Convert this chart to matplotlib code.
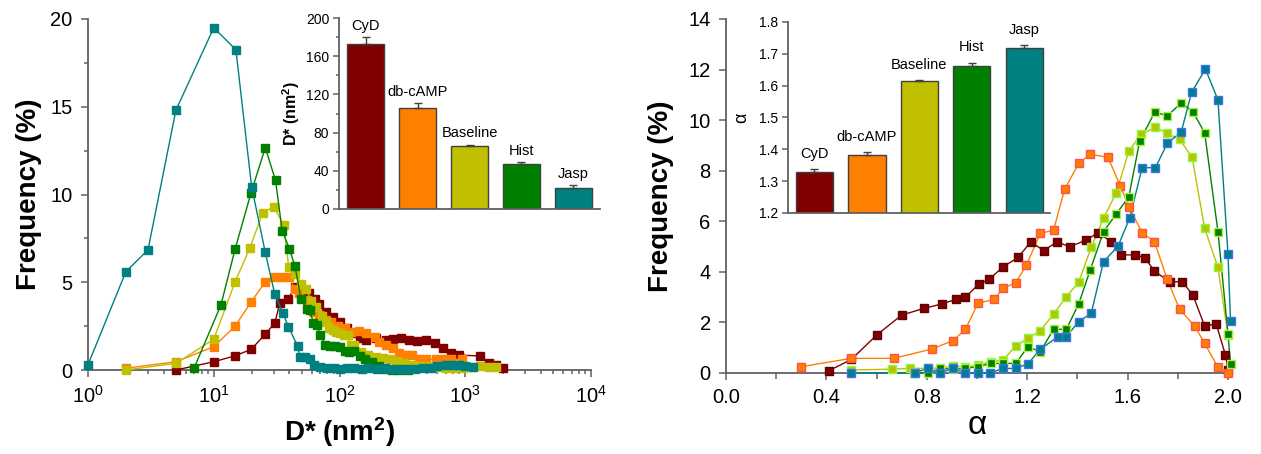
import matplotlib
matplotlib.use("Agg")
import matplotlib.pyplot as plt
from matplotlib.ticker import MultipleLocator, FormatStrFormatter, LogLocator, NullFormatter

plt.rcParams['font.family'] = ['Liberation Sans', 'DejaVu Sans']
plt.rcParams['mathtext.default'] = 'regular'

# ---------------- data ----------------
groups = ["CyD", "db-cAMP", "Baseline", "Hist", "Jasp"]
colors = ["#800000", "#FF8000", "#C0C000", "#008000", "#008080"]
edge_right = ["#600000", "#FF5050", "#80FF40", "#B0F040", "#4070FF"]

# Left panel: D* distributions (x in nm^2, y in %)
cyd_d_x = [5, 10, 14.8, 19.9, 25.7, 30.5, 33.5, 39, 44.3, 49, 57, 64, 69, 78, 88, 100, 115, 130, 145,
           163, 195, 234, 265, 307, 360, 417, 487, 570, 660, 767, 900, 1300, 1550, 1750, 1980]
cyd_d_y = [0.0, 0.47, 0.81, 1.18, 2.05, 2.66, 3.8, 4.03, 4.75, 4.37, 4.37, 4.03, 3.76, 3.32, 3.0, 2.75, 2.4, 2.09, 1.8,
           1.71, 1.8, 1.71, 1.75, 1.8, 1.71, 1.67, 1.71, 1.52, 1.23, 0.95, 0.85, 0.8, 0.38, 0.28, 0.1]

camp_d_x = [2, 5, 10, 14.8, 19.8, 25.7, 30, 35, 40, 44, 48, 55, 62, 69, 78, 86, 97, 110, 123, 144, 163, 190,
            207, 234, 265, 300, 340, 380, 430, 490, 580, 680, 770, 950]
camp_d_y = [0.1, 0.47, 1.33, 2.5, 3.87, 5.03, 5.28, 5.3, 5.3, 4.6, 4.37, 3.99, 3.32, 3.13, 2.85, 2.75, 2.5, 2.37,
            2.18, 2.24, 2.09, 1.9, 1.61, 1.42, 1.23, 0.95, 0.85, 0.85, 0.61, 0.61, 0.61, 0.61, 0.61, 0.61]

base_d_x = [2, 5, 10, 14.8, 19.3, 24.6, 30, 36, 39.5, 44.5, 49.5, 54.5, 59.6, 65, 73, 78, 83, 88, 94, 100, 108,
            116, 123, 130, 148, 167, 195, 220, 250, 280, 325, 380, 440, 520, 600, 700, 820, 960, 1130, 1300,
            1550, 1770]
base_d_y = [0.0, 0.38, 1.75, 5.03, 6.93, 8.97, 9.3, 8.26, 5.85, 5.47, 4.9, 4.6, 3.95, 3.6, 3.08, 2.75, 2.37,
            2.28, 2.18, 2.09, 2.0, 2.0, 1.42, 1.42, 1.04, 0.85, 0.72, 0.67, 0.61, 0.53, 0.42, 0.3, 0.25, 0.2,
            0.15, 0.12, 0.1, 0.1, 0.15, 0.2, 0.15, 0.15]

hist_d_x = [7, 11.4, 14.8, 19.8, 25.7, 31, 35, 40, 44.3, 49.4, 55, 58, 62, 66, 70, 77, 84, 92, 100, 110, 120,
            130, 145, 160, 180, 205, 230, 260, 300, 350]
hist_d_y = [0.13, 3.7, 6.9, 10.1, 12.67, 10.8, 7.94, 6.9, 5.9, 4.05, 3.5, 3.4, 2.7, 2.56, 2.0, 1.45, 1.35, 1.35,
            1.3, 1.1, 1.05, 1.1, 0.8, 0.62, 0.45, 0.2, 0.08, 0.02, 0.0, 0.0]

jasp_d_x = [1, 2, 3, 5, 10, 15, 20, 25.7, 30.5, 35.3, 39.2, 46.4, 48.4, 52.7, 58.7, 63, 70, 80, 90, 100, 115,
            130, 150, 170, 200, 230, 260, 300, 350, 400, 460, 530, 600, 700, 800, 900, 1000, 1150]
jasp_d_y = [0.3, 5.6, 6.85, 14.8, 19.5, 18.25, 10.45, 6.7, 4.35, 3.27, 2.47, 1.37, 0.76, 0.76, 0.6, 0.3, 0.15,
            0.1, 0.1, 0.05, 0.1, 0.1, 0.05, 0.1, 0.05, 0.1, 0.05, 0.05, 0.05, 0.05, 0.1, 0.1, 0.2, 0.3, 0.3,
            0.3, 0.2, 0.15]

# Right panel: alpha distributions
cyd_a_x = [0.41, 0.5, 0.6, 0.7, 0.79, 0.86, 0.915, 0.954, 1.007, 1.048, 1.104, 1.164, 1.214, 1.266, 1.319,
           1.369, 1.436, 1.482, 1.535, 1.575, 1.628, 1.668, 1.707, 1.767, 1.818, 1.86, 1.907, 1.953, 1.99, 2.0]
cyd_a_y = [0.09, 0.54, 1.5, 2.29, 2.56, 2.73, 2.91, 2.99, 3.52, 3.7, 4.2, 4.57, 5.19, 4.84, 5.19, 4.99, 5.26,
           5.55, 5.19, 4.67, 4.67, 4.56, 4.03, 3.61, 3.61, 3.08, 1.86, 1.94, 0.71, 0.12]

camp_a_x = [0.3, 0.5, 0.67, 0.82, 0.905, 0.954, 1.004, 1.068, 1.104, 1.154, 1.197, 1.252, 1.305, 1.349, 1.405,
            1.451, 1.522, 1.571, 1.605, 1.658, 1.707, 1.758, 1.807, 1.867, 1.907, 1.96, 2.0]
camp_a_y = [0.25, 0.58, 0.58, 0.95, 1.28, 1.73, 2.76, 2.91, 3.35, 3.57, 4.27, 5.52, 5.65, 7.26, 8.29, 8.65,
            8.53, 7.39, 6.58, 5.55, 5.19, 3.7, 2.52, 1.86, 1.17, 0.23, 0.01]

base_a_x = [0.5, 0.66, 0.735, 0.805, 0.854, 0.905, 0.954, 1.004, 1.055, 1.104, 1.154, 1.203, 1.252, 1.305,
            1.356, 1.405, 1.455, 1.504, 1.555, 1.605, 1.654, 1.709, 1.758, 1.807, 1.857, 1.907, 1.96, 2.0]
base_a_y = [0.12, 0.15, 0.19, 0.18, 0.2, 0.28, 0.22, 0.32, 0.45, 0.51, 1.07, 1.37, 1.67, 2.33, 3.02, 3.59,
            4.97, 6.12, 7.13, 8.78, 9.44, 9.71, 9.48, 9.24, 8.53, 5.72, 4.18, 1.5]

hist_a_x = [0.75, 0.805, 0.854, 0.905, 0.954, 1.004, 1.055, 1.104, 1.154, 1.203, 1.252, 1.305, 1.356, 1.405,
            1.451, 1.504, 1.555, 1.605, 1.648, 1.709, 1.758, 1.814, 1.86, 1.907, 1.96, 2.0, 2.01]
hist_a_y = [0.0, 0.0, 0.18, 0.15, 0.18, 0.25, 0.38, 0.38, 0.38, 1.04, 0.84, 1.73, 1.73, 2.73, 4.07, 5.59, 6.29,
            6.97, 9.17, 10.33, 10.16, 10.69, 10.33, 9.5, 5.59, 1.54, 0.36]

jasp_a_x = [0.5, 0.752, 0.803, 0.852, 0.905, 0.954, 1.004, 1.051, 1.104, 1.154, 1.203, 1.252, 1.323, 1.356,
            1.405, 1.455, 1.504, 1.562, 1.608, 1.658, 1.711, 1.758, 1.814, 1.855, 1.91, 1.96, 2.0, 2.01]
jasp_a_y = [0.0, 0.01, 0.18, 0.0, 0.18, 0.0, 0.0, 0.0, 0.18, 0.18, 0.36, 0.94, 1.44, 1.44, 2.03, 2.36, 4.4,
            5.02, 6.12, 8.12, 8.12, 9.08, 9.54, 11.1, 12.02, 10.8, 4.7, 2.06]

# Insets: mean values and (upper) errors
dstar_mean = [172.5, 106, 66, 47, 22]
dstar_err = [7.5, 5, 1.5, 2, 3]
alpha_mean = [1.329, 1.381, 1.615, 1.663, 1.719]
alpha_err = [0.009, 0.011, 0.003, 0.009, 0.009]

d_series = [(cyd_d_x, cyd_d_y), (camp_d_x, camp_d_y), (base_d_x, base_d_y),
            (hist_d_x, hist_d_y), (jasp_d_x, jasp_d_y)]
a_series = [(cyd_a_x, cyd_a_y), (camp_a_x, camp_a_y), (base_a_x, base_a_y),
            (hist_a_x, hist_a_y), (jasp_a_x, jasp_a_y)]

# ---------------- figure ----------------
W, H = 1261, 454
fig = plt.figure(figsize=(W / 100, H / 100), dpi=100)

def rect(x0, y0, x1, y1):
    return [x0 / W, 1 - y1 / H, (x1 - x0) / W, (y1 - y0) / H]

spine_c = "#606060"

def style_axes(ax):
    for s in ("top", "right"):
        ax.spines[s].set_visible(False)
    for s in ("left", "bottom"):
        ax.spines[s].set_color(spine_c)
        ax.spines[s].set_linewidth(1.3)
    ax.tick_params(which="both", direction="out", color=spine_c, width=1.1)

# Left main
axL = fig.add_axes(rect(88, 19, 591, 370))
style_axes(axL)
for (x, y), c in zip(d_series, colors):
    axL.plot(x, y, "-s", color=c, mfc=c, mec=c, lw=1.0, ms=5.5, clip_on=False, zorder=3)
axL.set_xscale("log")
axL.set_xlim(1, 1e4)
axL.set_ylim(0, 20)
axL.yaxis.set_major_locator(MultipleLocator(5))
axL.yaxis.set_minor_locator(MultipleLocator(2.5))
axL.xaxis.set_minor_locator(LogLocator(base=10, subs=range(2, 10)))
axL.xaxis.set_minor_formatter(NullFormatter())
axL.tick_params(which="major", length=5, labelsize=14.5, pad=6)
axL.tick_params(which="minor", length=3)
axL.set_ylabel("Frequency (%)", fontsize=20, fontweight="bold", labelpad=6)
axL.set_xlabel("D* (nm$^{2}$)", fontsize=20, fontweight="bold", labelpad=6)

# Right main
axR = fig.add_axes(rect(726, 19, 1228, 373))
style_axes(axR)
for (x, y), c, ec in zip(a_series, colors, edge_right):
    axR.plot(x, y, "-", color=c, lw=1.0, clip_on=False, zorder=3)
    axR.plot(x, y, "s", mfc=c, mec=ec, mew=1.0, ms=6, clip_on=False, zorder=4)
axR.set_xlim(0, 2.0)
axR.set_ylim(0, 14)
axR.xaxis.set_major_locator(MultipleLocator(0.4))
axR.xaxis.set_minor_locator(MultipleLocator(0.2))
axR.xaxis.set_major_formatter(FormatStrFormatter("%.1f"))
axR.yaxis.set_major_locator(MultipleLocator(2))
axR.tick_params(which="major", length=5, labelsize=14.5, pad=6)
axR.tick_params(which="minor", length=4)
axR.set_ylabel("Frequency (%)", fontsize=20, fontweight="bold", labelpad=10)
axR.set_xlabel("α", fontsize=24, labelpad=2)

# Left inset
pos = list(range(len(groups)))
insL = fig.add_axes(rect(339, 18, 600, 209))
style_axes(insL)
insL.bar(pos, dstar_mean, width=0.71, color=colors, edgecolor="#404040", linewidth=1.0, zorder=2)
insL.errorbar(pos, dstar_mean, yerr=[[0] * 5, dstar_err], fmt="none", ecolor="#404040",
              elinewidth=1.0, capsize=3, capthick=1.0, zorder=3)
for p, m, e, g in zip(pos, dstar_mean, dstar_err, groups):
    insL.annotate(g, (p, m + e), xytext=(0, 3), textcoords="offset points",
                  ha="center", va="bottom", fontsize=10.5)
insL.set_xlim(-0.51, 4.51)
insL.set_ylim(0, 200)
insL.set_xticks([])
insL.yaxis.set_major_locator(MultipleLocator(40))
insL.yaxis.set_minor_locator(MultipleLocator(20))
insL.tick_params(which="major", length=4, labelsize=10, pad=3)
insL.tick_params(which="minor", length=2.5)
insL.set_ylabel("D* (nm$^{2}$)", fontsize=11.5, fontweight="bold", labelpad=3)
insL.patch.set_alpha(0)

# Right inset
insR = fig.add_axes(rect(788, 22, 1050, 213))
style_axes(insR)
insR.bar(pos, alpha_mean, width=0.71, color=colors, edgecolor="#404040", linewidth=1.0, zorder=2)
insR.errorbar(pos, alpha_mean, yerr=[[0] * 5, alpha_err], fmt="none", ecolor="#404040",
              elinewidth=1.0, capsize=3, capthick=1.0, zorder=3)
for p, m, e, g in zip(pos, alpha_mean, alpha_err, groups):
    insR.annotate(g, (p, m + e), xytext=(0, 6), textcoords="offset points",
                  ha="center", va="bottom", fontsize=10.5)
insR.set_xlim(-0.505, 4.49)
insR.set_ylim(1.2, 1.8)
insR.set_xticks([])
insR.yaxis.set_major_locator(MultipleLocator(0.1))
insR.yaxis.set_major_formatter(FormatStrFormatter("%.1f"))
insR.tick_params(which="major", length=4, labelsize=10, pad=3)
insR.set_ylabel("α", fontsize=13, labelpad=6)
insR.patch.set_alpha(0)

fig.savefig("out.png", dpi=100)
